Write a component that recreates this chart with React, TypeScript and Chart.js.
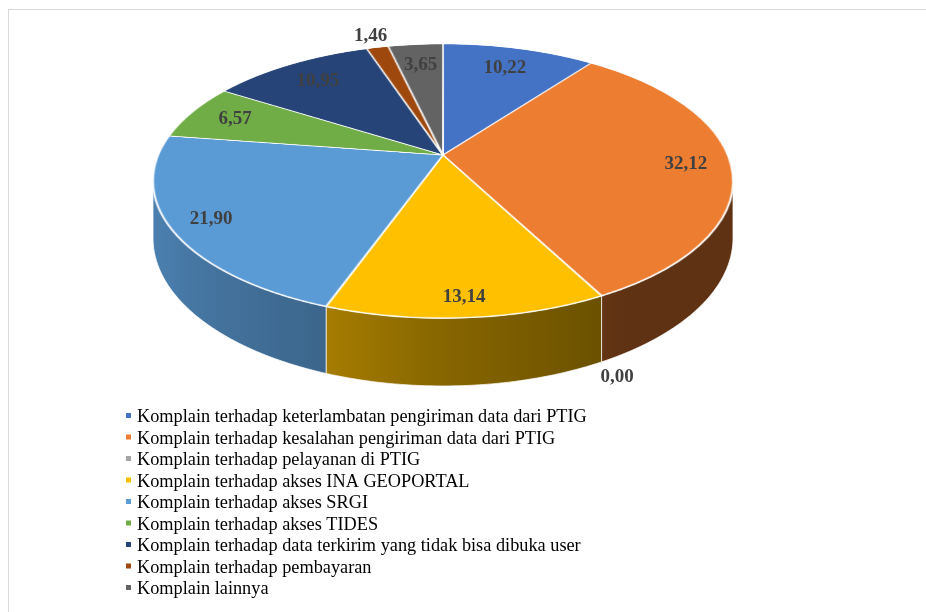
import { useEffect, useRef } from "react";
import { Chart, registerables } from "chart.js";

Chart.register(...registerables);

const CATEGORIES = [
  "Komplain terhadap keterlambatan pengiriman data dari PTIG",
  "Komplain terhadap kesalahan pengiriman data dari PTIG",
  "Komplain terhadap pelayanan di PTIG",
  "Komplain terhadap akses INA GEOPORTAL",
  "Komplain terhadap akses SRGI",
  "Komplain terhadap akses TIDES",
  "Komplain terhadap data terkirim yang tidak bisa dibuka user",
  "Komplain terhadap pembayaran",
  "Komplain lainnya",
];
const VALUES = [10.22, 32.12, 0.0, 13.14, 21.9, 6.57, 10.95, 1.46, 3.65];
const COLORS = [
  "#4472C4",
  "#ED7D31",
  "#A5A5A5",
  "#FFC000",
  "#5B9BD5",
  "#70AD47",
  "#264478",
  "#9E480E",
  "#636363",
];

// canvas size
const W = 918;
const H = 596;
// flat pie radius drawn by Chart.js, then shown in perspective
const RS = 290;
const M = 3;
// perspective view of the pie (canvas coordinates)
const CX = 435; // screen x of the pie centre
const Y0 = 147; // screen y of the pie centre
const A = 284.7; // horizontal scale
const B = 132.1; // vertical scale
const C = 0.19; // perspective strength
const WALL = 55; // wall height
const LABEL_IN = 0.84;
const LABEL_OUT_BACK = 1.13;
const LABEL_OUT_FRONT = 1.08;

const SHADE: [number, number][] = [
  [0, 0.4],
  [57, 0.4],
  [90, 0.53],
  [113, 0.67],
  [150, 0.8],
  [180, 0.85],
];

function shade(deg: number) {
  for (let i = 1; i < SHADE.length; i++) {
    if (deg <= SHADE[i][0]) {
      const [d0, v0] = SHADE[i - 1];
      const [d1, v1] = SHADE[i];
      return v0 + ((deg - d0) / (d1 - d0)) * (v1 - v0);
    }
  }
  return SHADE[SHADE.length - 1][1];
}

function rgb(hex: string) {
  const n = parseInt(hex.slice(1), 16);
  return [(n >> 16) & 255, (n >> 8) & 255, n & 255];
}

function darker(hex: string, f: number) {
  const [r, g, b] = rgb(hex);
  return `rgb(${Math.round(r * f)},${Math.round(g * f)},${Math.round(b * f)})`;
}

function fmt(v: number) {
  return v.toFixed(2).replace(".", ",");
}

// disk coords: u to the right, w to the back; drop = wall offset
function proj(u: number, w: number, drop = 0) {
  const d = 1 + C * w;
  return { x: CX + (A * u) / d, y: Y0 - (B * w) / d + drop / d };
}

// canvas angle (0 = right, clockwise) -> disk point
function rim(a: number, r = 1, drop = 0) {
  return proj(r * Math.cos(a), -r * Math.sin(a), drop);
}

const pie3d = {
  id: "pie3d",
  afterDatasetsDraw(chart: any) {
    const ctx: CanvasRenderingContext2D = chart.ctx;
    const meta = chart.getDatasetMeta(0);
    const arcs = meta.data;
    const colors = chart.data.datasets[0].backgroundColor;
    const values = chart.data.datasets[0].data;
    const dpr = chart.currentDevicePixelRatio || 1;
    const cx0 = arcs[0].x;
    const cy0 = arcs[0].y;
    const S = 2 * (RS + M);

    // grab the flat pie drawn by Chart.js
    const off = document.createElement("canvas");
    off.width = Math.ceil(S * dpr);
    off.height = Math.ceil(S * dpr);
    const octx = off.getContext("2d")!;
    octx.drawImage(
      chart.canvas,
      (cx0 - RS - M) * dpr,
      (cy0 - RS - M) * dpr,
      S * dpr,
      S * dpr,
      0,
      0,
      S * dpr,
      S * dpr
    );
    ctx.save();
    ctx.setTransform(1, 0, 0, 1, 0, 0);
    ctx.clearRect(0, 0, chart.canvas.width, chart.canvas.height);
    ctx.restore();

    // outer wall (visible front part)
    const aMin = Math.asin(C);
    const aMax = Math.PI - aMin;
    arcs.forEach((arc: any, i: number) => {
      const { startAngle, endAngle } = arc.getProps(["startAngle", "endAngle"], true);
      const a0 = Math.max(startAngle, aMin);
      const a1 = Math.min(endAngle, aMax);
      if (a1 - a0 <= 1e-6) return;
      const n = Math.max(2, Math.ceil(((a1 - a0) * 180) / Math.PI));
      const top: { x: number; y: number }[] = [];
      const bot: { x: number; y: number }[] = [];
      for (let s = 0; s <= n; s++) {
        const a = a0 + ((a1 - a0) * s) / n;
        top.push(rim(a));
        bot.push(rim(a, 1, WALL));
      }
      ctx.save();
      ctx.beginPath();
      top.forEach((p, k) => (k === 0 ? ctx.moveTo(p.x, p.y) : ctx.lineTo(p.x, p.y)));
      for (let k = bot.length - 1; k >= 0; k--) ctx.lineTo(bot[k].x, bot[k].y);
      ctx.closePath();
      const xs = top.map((p) => p.x);
      const xmin = Math.min(...xs);
      const xmax = Math.max(...xs);
      const g = ctx.createLinearGradient(xmin, 0, xmax, 0);
      for (let s = 0; s <= n; s++) {
        const a = a0 + ((a1 - a0) * s) / n;
        const off01 = xmax > xmin ? (top[s].x - xmin) / (xmax - xmin) : 0;
        g.addColorStop(Math.min(1, Math.max(0, off01)), darker(colors[i], shade((a * 180) / Math.PI)));
      }
      ctx.fillStyle = g;
      ctx.fill();
      ctx.strokeStyle = "rgba(255,255,255,0.7)";
      ctx.lineWidth = 1;
      ctx.stroke();
      ctx.restore();
    });

    // top face in perspective, row by row
    ctx.save();
    ctx.imageSmoothingEnabled = true;
    (ctx as any).imageSmoothingQuality = "high";
    const wOf = (y: number) => {
      const t = (Y0 - y) / B;
      return t / (1 - C * t);
    };
    const yTop = Math.floor(Y0 - B / (1 + C)) - 3;
    const yBot = Math.ceil(Y0 + B / (1 - C)) + 3;
    const lim = 1 + M / RS;
    for (let y = yTop; y <= yBot; y++) {
      const w1 = wOf(y);
      const w2 = wOf(y + 1);
      const wm = wOf(y + 0.5);
      if (wm > lim || wm < -lim) continue;
      const k = A / (1 + C * wm);
      const s1 = M + RS * (1 - Math.min(lim, w1));
      const s2 = M + RS * (1 - Math.max(-lim, w2));
      const sh = Math.max(0.5, s2 - s1);
      ctx.drawImage(
        off,
        0,
        s1 * dpr,
        S * dpr,
        sh * dpr,
        CX - (k * (RS + M)) / RS,
        y,
        (S * k) / RS,
        1
      );
    }
    ctx.restore();

    // data labels
    ctx.save();
    ctx.font = "bold 19px 'Liberation Serif'";
    ctx.fillStyle = "#404040";
    ctx.textAlign = "center";
    ctx.textBaseline = "middle";
    arcs.forEach((arc: any, i: number) => {
      const { startAngle, endAngle } = arc.getProps(["startAngle", "endAngle"], true);
      const mid = (startAngle + endAngle) / 2;
      const outside = values[i] < 2;
      const back = -Math.sin(mid);
      const r = outside
        ? back < 0
          ? LABEL_OUT_FRONT
          : LABEL_OUT_BACK
        : LABEL_IN - 0.055 * back;
      const p = rim(mid, r, outside && back < 0 ? WALL : 0);
      ctx.fillText(fmt(values[i]), p.x, p.y);
    });
    ctx.restore();
  },
  afterDraw(chart: any) {
    const ctx: CanvasRenderingContext2D = chart.ctx;
    const labels = chart.data.labels;
    const colors = chart.data.datasets[0].backgroundColor;
    ctx.save();
    ctx.font = "18.3px 'Liberation Serif'";
    ctx.textBaseline = "alphabetic";
    ctx.textAlign = "left";
    labels.forEach((lab: string, i: number) => {
      const yb = 414 + i * 21.5;
      ctx.fillStyle = colors[i];
      ctx.fillRect(118, yb - 9, 5, 5);
      ctx.fillStyle = "#000000";
      ctx.fillText(lab, 129, yb);
    });
    ctx.restore();
  },
};

export default function App() {
  const ref = useRef<HTMLCanvasElement | null>(null);
  useEffect(() => {
    if (!ref.current) return;
    const chart = new Chart(ref.current, {
      type: "pie",
      data: {
        labels: CATEGORIES,
        datasets: [
          {
            data: VALUES,
            backgroundColor: COLORS,
            borderColor: "rgba(255,255,255,0.9)",
            borderWidth: 2,
            radius: RS,
            clip: false,
          } as any,
        ],
      },
      options: {
        animation: false,
        responsive: false,
        maintainAspectRatio: false,
        events: [],
        plugins: {
          legend: { display: false },
          tooltip: { enabled: false },
        },
      },
      plugins: [pie3d],
    });
    return () => chart.destroy();
  }, []);
  return (
    <div style={{ position: "relative", width: W, height: H }}>
      <canvas ref={ref} width={W} height={H} style={{ position: "absolute", left: 0, top: 0, width: W, height: H }} />
      <div
        style={{
          position: "fixed",
          left: 8,
          top: 9,
          width: 960,
          height: 640,
          borderTop: "1px solid #d9d9d9",
          borderLeft: "1px solid #d9d9d9",
          boxSizing: "border-box",
          pointerEvents: "none",
        }}
      />
    </div>
  );
}
